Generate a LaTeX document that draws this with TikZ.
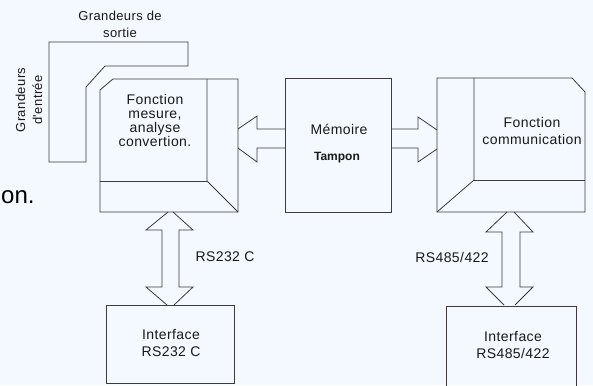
\documentclass[tikz,border=0pt]{standalone}
\usepackage{fontspec}
\setmainfont{Liberation Sans}
\newfontfamily\df[LetterSpace=3]{Liberation Sans}
\usetikzlibrary{calc}
\definecolor{bg}{RGB}{243,249,254}
\definecolor{lncol}{RGB}{60,60,60}
\definecolor{tx}{RGB}{25,25,25}
\begin{document}
\begin{tikzpicture}[x=1pt,y=-1pt,
  ln/.style={draw=lncol,line width=0.8pt,line join=miter},
  blk/.style={rectangle,inner sep=0pt,outer sep=0pt},
  lbl/.style={text=tx,font=\df\fontsize{14}{17}\selectfont,align=center,inner sep=0pt},
  smalllbl/.style={text=tx,font=\df\fontsize{13}{17}\selectfont,align=center,inner sep=0pt}]
\fill[bg] (0,0) rectangle (593,385);
\useasboundingbox (0,0) rectangle (593,385);

% block geometry
\node[blk,minimum width=138pt,minimum height=133pt] (mes) at (169,145.5) {};
\node[blk,ln,minimum width=106pt,minimum height=134pt] (mem) at (338,145) {};
\node[blk,minimum width=148pt,minimum height=134pt] (com) at (511,145) {};
\node[blk,ln,minimum width=128pt,minimum height=78pt] (if1) at (170,344) {};
\node[blk,minimum width=130pt,minimum height=82pt] (if2) at (511,347) {};

% input/output L shape
\draw[ln] (49,42) -- (188,42) -- (188,66) -- (105,66) -- (86,87) -- (86,162) -- (49,162) -- cycle;

% measurement block
\draw[ln] (100,90) -- (113,79) -- (238,79) -- (238,212) -- (100,212) -- cycle;
\draw[ln] (207,79) -- (207,181) -- (238,212);
\draw[ln] (100,181) -- (207,181);

% communication block
\draw[ln] (437,78) -- (572,78) -- (585,92) -- (585,212) -- (437,212) -- cycle;
\draw[ln] (474,78) -- (474,180) -- (437,212);
\draw[ln] (474,180) -- (585,180);

% interface RS485 box (runs off the bottom)
\draw[ln] (446,388) -- (446,306) -- (576,306) -- (576,388);

% arrow memoire -> mesure
\draw[ln] (mem.west |- 0,129) -- (257,129) -- (257,116) -- (mes.east |- 0,129);
\draw[ln] (mem.west |- 0,148) -- (257,148) -- (257,162) -- (mes.east |- 0,148);

% arrow memoire -> communication
\draw[ln] (mem.east |- 0,129) -- (418,129) -- (418,117) -- (com.west |- 0,130);
\draw[ln] (mem.east |- 0,148) -- (418,148) -- (418,162) -- (com.west |- 0,149);

% double arrow mesure <-> interface RS232
\draw[ln] (168,212) -- (146,230) -- (162,230) -- (162,287) -- (146,287) -- (167,305);
\draw[ln] (173,212) -- (193,230) -- (179,230) -- (179,287) -- (193,287) -- (174,305);

% double arrow communication <-> interface RS485
\draw[ln] (507,212) -- (486,232) -- (502,232) -- (502,287) -- (486,287) -- (504,305);
\draw[ln] (514,212) -- (533,232) -- (520,232) -- (520,287) -- (533,287) -- (515,305);

% texts
\node[smalllbl] (tout) at (120,24.5) {Grandeurs de\\sortie};
\node[smalllbl,rotate=90] (tin) at (29,100) {Grandeurs\\d'entrée};
\node[lbl,font=\df\fontsize{14}{14}\selectfont] (tmes) at (155,120) {Fonction\\mesure,\\analyse\\convertion.};
\node[lbl] (tmem) at (339,129) {Mémoire};
\node[text=tx,font=\bfseries\fontsize{12}{14}\selectfont,inner sep=0pt] (ttam) at (337,158) {Tampon};
\node[lbl] (tcom) at (532,130.5) {Fonction\\communication};
\node[lbl] (trs1) at (225,257) {RS232 C};
\node[lbl] (trs2) at (452,257) {RS485/422};
\node[lbl] (tif1) at (171,343) {Interface\\RS232 C};
\node[lbl] (tif2) at (513,345) {Interface\\RS485/422};
\node[anchor=base west,inner sep=0pt,text=black,font=\fontsize{24}{28}\selectfont] (ton) at (1,203) {on.};
\end{tikzpicture}
\end{document}
